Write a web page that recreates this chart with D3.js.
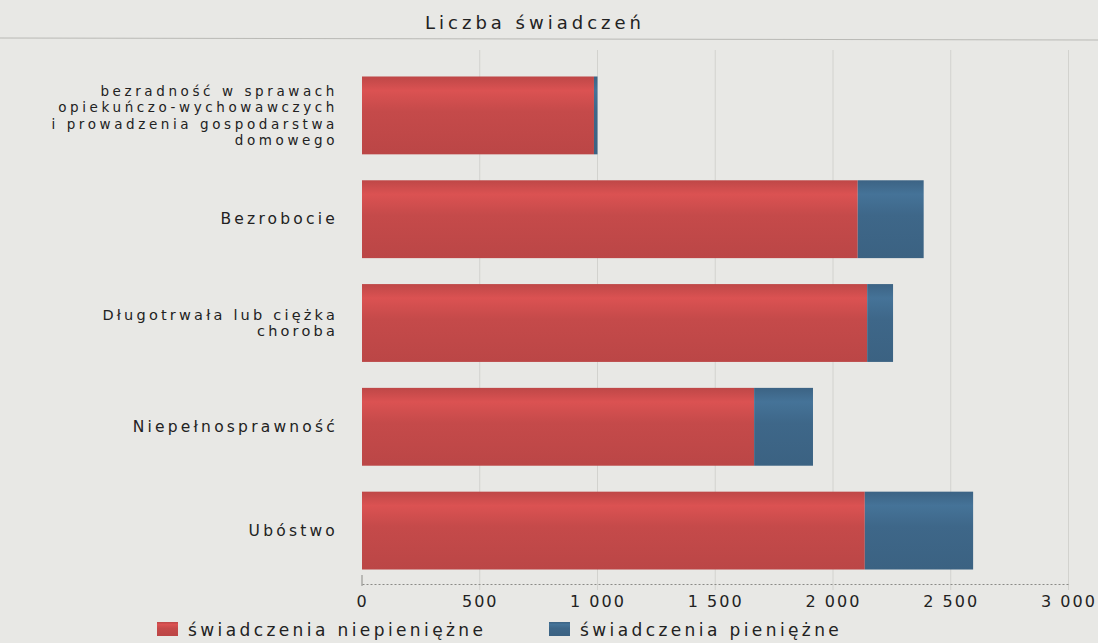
<!DOCTYPE html>
<html>
<head>
<meta charset="utf-8">
<script src="https://cdn.jsdelivr.net/npm/d3@7"></script>
<style>
  html, body { margin: 0; padding: 0; background: #e8e8e5; }
  svg { display: block; font-family: "DejaVu Sans", sans-serif; }
</style>
</head>
<body>
<svg id="chart"></svg>
<script>
// --- Data ---
const categories = [
  ["bezradność w sprawach", "opiekuńczo-wychowawczych", "i prowadzenia gospodarstwa", "domowego"],
  ["Bezrobocie"],
  ["Długotrwała lub ciężka", "choroba"],
  ["Niepełnosprawność"],
  ["Ubóstwo"]
];
const nonCash = [985, 2105, 2145, 1665, 2135];   // świadczenia niepieniężne
const cash = [15, 280, 110, 250, 460];           // świadczenia pieniężne
const xTicks = [0, 500, 1000, 1500, 2000, 2500, 3000];
const seriesNames = ["świadczenia niepieniężne", "świadczenia pieniężne"];

const W = 1098, H = 643;
const margin = { left: 362, top: 63 };
const RED = "#c54a4a", BLUE = "#3e6789";

const svg = d3.select("#chart").attr("width", W).attr("height", H);
svg.append("rect").attr("width", W).attr("height", H).attr("fill", "#e8e8e5");

// --- Gradients (lighter top edge) ---
const defs = svg.append("defs");
function grad(id, base) {
  const c = d3.color(base);
  const g = defs.append("linearGradient").attr("id", id)
    .attr("x1", 0).attr("y1", 0).attr("x2", 0).attr("y2", 1);
  g.append("stop").attr("offset", "0%").attr("stop-color", c.darker(0.1));
  g.append("stop").attr("offset", "18%").attr("stop-color", c.brighter(0.3));
  g.append("stop").attr("offset", "45%").attr("stop-color", base);
  g.append("stop").attr("offset", "100%").attr("stop-color", c.darker(0.15));
}
grad("gRed", RED);
grad("gBlue", BLUE);

// --- Scales ---
const x = d3.scaleLinear().domain([0, 3000]).range([margin.left, margin.left + 3000 * 0.2355]);
const y = d3.scaleBand().domain(d3.range(categories.length))
  .range([margin.top, 583]).paddingInner(0.25).paddingOuter(0.13);

// Title + rule
svg.append("text").attr("x", 535).attr("y", 29).attr("text-anchor", "middle")
  .attr("font-size", 18).attr("letter-spacing", 4).attr("fill", "#222")
  .text("Liczba świadczeń");
svg.append("line").attr("x1", 0).attr("x2", W).attr("y1", 38).attr("y2", 40)
  .attr("stroke", "#b9b9b5").attr("stroke-width", 1);

// Grid
svg.append("g").selectAll("line").data(xTicks.slice(1)).join("line")
  .attr("x1", d => x(d)).attr("x2", d => x(d))
  .attr("y1", 50).attr("y2", 590)
  .attr("stroke", "#d2d2ce").attr("stroke-width", 1);

// Axis
const axis = svg.append("g").attr("transform", "translate(0,584)")
  .call(d3.axisBottom(x).tickValues(xTicks).tickSize(0).tickPadding(12)
    .tickFormat(d => d3.format(",")(d).replace(",", " ")));
axis.select(".domain").attr("stroke", "#8a8a86").attr("stroke-dasharray", "2,2");
axis.selectAll("text").attr("font-size", 16).attr("letter-spacing", 2)
  .attr("fill", "#222").attr("font-family", "DejaVu Sans");
svg.append("line").attr("x1", x(0)).attr("x2", x(0)).attr("y1", 575).attr("y2", 586)
  .attr("stroke", "#8a8a86");

// Bars
const rows = categories.map((c, i) => ({ i, a: nonCash[i], b: cash[i] }));
const g = svg.append("g");
g.selectAll(".red").data(rows).join("rect")
  .attr("x", x(0)).attr("y", d => y(d.i))
  .attr("width", d => x(d.a) - x(0)).attr("height", y.bandwidth())
  .attr("fill", "url(#gRed)");
g.selectAll(".blue").data(rows).join("rect")
  .attr("x", d => x(d.a)).attr("y", d => y(d.i))
  .attr("width", d => x(d.a + d.b) - x(d.a)).attr("height", y.bandwidth())
  .attr("fill", "url(#gBlue)");

// Category labels
svg.append("g").selectAll("text").data(categories).join("text")
  .attr("text-anchor", "end")
  .attr("font-size", d => d.length > 2 ? 13.5 : d.length > 1 ? 14.5 : 15.5)
  .attr("letter-spacing", d => d.length > 2 ? 3.6 : 3.2)
  .attr("fill", "#222")
  .each(function (lines, i) {
    const lh = lines.length > 1 ? 16.5 : 15;
    const cy = y(i) + y.bandwidth() / 2;
    const y0 = cy - (lines.length - 1) * lh / 2 + 5;
    d3.select(this).selectAll("tspan").data(lines).join("tspan")
      .attr("x", 338).attr("y", (d, k) => y0 + k * lh).text(d => d);
  });

// Legend
const leg = svg.append("g").attr("font-size", 17).attr("letter-spacing", 3.4).attr("fill", "#222");
const legX = [157, 549];
seriesNames.forEach((name, k) => {
  leg.append("rect").attr("x", legX[k]).attr("y", 622).attr("width", 21).attr("height", 14)
    .attr("fill", k === 0 ? "url(#gRed)" : "url(#gBlue)");
  leg.append("text").attr("x", legX[k] + 31).attr("y", 636).text(name);
});
</script>
</body>
</html>
